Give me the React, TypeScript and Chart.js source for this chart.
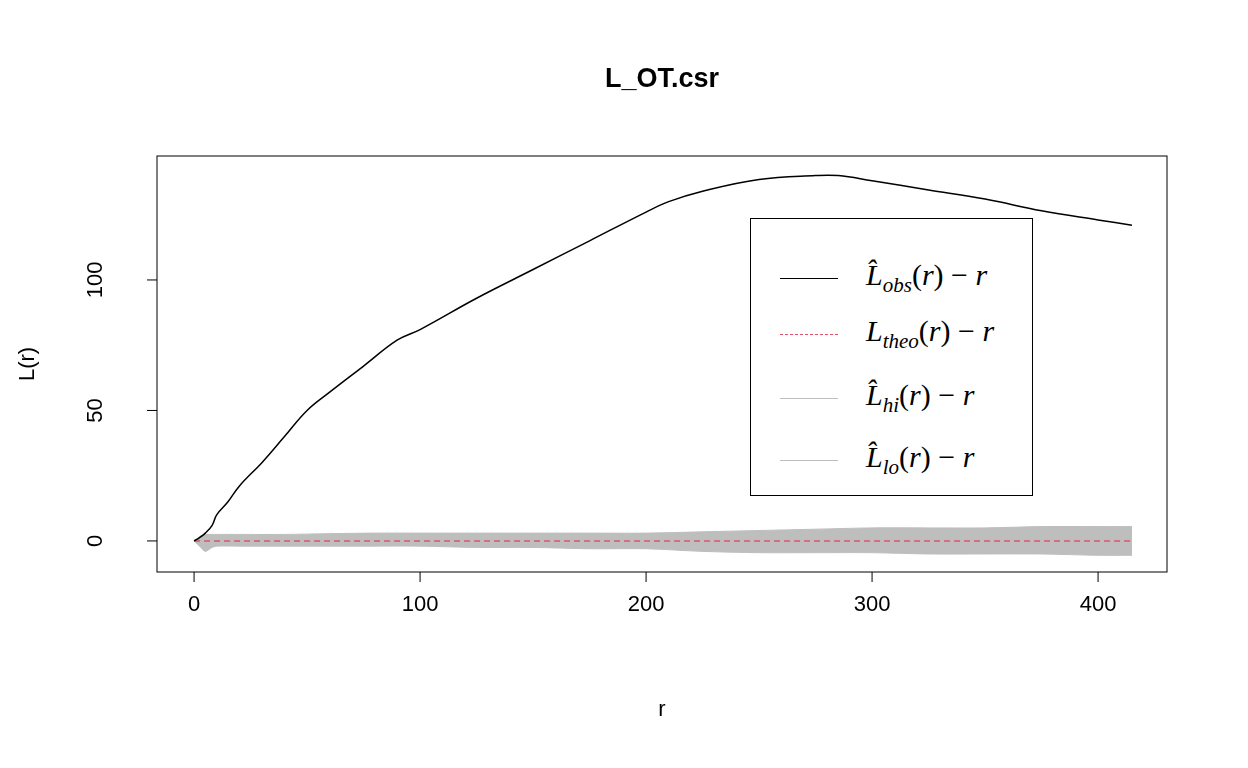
import { useEffect, useRef } from "react";
import { Chart, registerables } from "chart.js";

Chart.register(...registerables);

const rObs = [0, 2, 5, 8, 10, 15, 20, 30, 40, 50, 60, 75, 90, 100, 125, 150, 175, 200, 210, 225, 250, 275, 285, 300, 325, 350, 375, 400, 415];
const lObs = [0, 1, 3, 6, 10, 15, 21, 30, 40, 50, 57, 67, 77, 81, 93, 104, 115, 126, 130, 134, 138.5, 140, 140, 138, 134.5, 131, 126.5, 123, 121];
const rEnv = [0, 3, 5, 8, 10, 20, 40, 60, 80, 100, 125, 150, 175, 200, 225, 250, 275, 300, 325, 350, 375, 400, 415];
const lHi = [0, 2, 2.5, 2.5, 2.5, 2.5, 2.5, 2.8, 3, 3, 3, 3, 3, 3, 3.5, 4, 4.5, 5, 5, 5, 5.5, 5.5, 5.5];
const lLo = [0, -2.5, -4, -2.5, -2, -2, -2, -2, -2, -2, -2.5, -2.5, -3, -3, -4, -4.5, -4.5, -4.5, -5, -5, -5, -5.5, -5.5];
const xTicks = [0, 100, 200, 300, 400];
const yTicks = [0, 50, 100];

const rPlugin = {
  id: "rstyle",
  afterDraw(chart: any) {
    const { ctx, chartArea: a, scales } = chart;
    const x = scales.x, y = scales.y;
    ctx.save();
    ctx.strokeStyle = "#000";
    ctx.lineWidth = 1;
    ctx.strokeRect(a.left, a.top, a.right - a.left, a.bottom - a.top);
    ctx.fillStyle = "#000";
    ctx.font = "22px Arial, 'Liberation Sans'";
    const xb = a.bottom;
    ctx.beginPath();
    ctx.textAlign = "center";
    ctx.textBaseline = "middle";
    xTicks.forEach((t) => {
      const px = x.getPixelForValue(t);
      ctx.moveTo(px, xb);
      ctx.lineTo(px, xb + 10);
      ctx.fillText(String(t), px, 605);
    });
    const yl = a.left;
    yTicks.forEach((t) => {
      const py = y.getPixelForValue(t);
      ctx.moveTo(yl, py);
      ctx.lineTo(yl - 10, py);
      ctx.save();
      ctx.translate(96, py);
      ctx.rotate(-Math.PI / 2);
      ctx.fillText(String(t), 0, 0);
      ctx.restore();
    });
    ctx.stroke();
    ctx.fillText("r", 662, 710);
    ctx.save();
    ctx.translate(28, 364);
    ctx.rotate(-Math.PI / 2);
    ctx.fillText("L(r)", 0, 0);
    ctx.restore();
    ctx.font = "bold 27px Arial, 'Liberation Sans'";
    ctx.fillText("L_OT.csr", 662, 80);
    ctx.restore();
  },
};

const legendRows = [
  { base: "L̂", sub: "obs", color: "#000", dash: false, top: 278 },
  { base: "L", sub: "theo", color: "#DF536B", dash: true, top: 334 },
  { base: "L̂", sub: "hi", color: "#BEBEBE", dash: false, top: 398 },
  { base: "L̂", sub: "lo", color: "#BEBEBE", dash: false, top: 460 },
];

export default function App() {
  const ref = useRef<HTMLCanvasElement | null>(null);
  useEffect(() => {
    document.body.style.margin = "0";
    if (!ref.current) return;
    const env = (v: number[]) => rEnv.map((r, i) => ({ x: r, y: v[i] }));
    const chart = new Chart(ref.current, {
      type: "line",
      data: {
        datasets: [
          { data: env(lHi), borderColor: "#BEBEBE", borderWidth: 1, pointRadius: 0, fill: false, tension: 0.3, order: 3 },
          { data: env(lLo), borderColor: "#BEBEBE", borderWidth: 1, pointRadius: 0, fill: "-1", backgroundColor: "#BEBEBE", tension: 0.3, order: 2 },
          { data: [{ x: 0, y: 0 }, { x: 415, y: 0 }], borderColor: "#DF536B", borderWidth: 1.5, borderDash: [6, 4], pointRadius: 0, order: 1 },
          { data: rObs.map((r, i) => ({ x: r, y: lObs[i] })), borderColor: "#000", borderWidth: 1.5, pointRadius: 0, tension: 0.4, order: 0 },
        ],
      },
      options: {
        animation: false,
        responsive: false,
        layout: { padding: { top: 156, right: 81, left: 0, bottom: 0 } },
        plugins: { legend: { display: false }, tooltip: { enabled: false } },
        scales: {
          x: {
            type: "linear", min: -16.4, max: 430.5,
            grid: { display: false }, border: { display: false }, ticks: { display: false },
            afterFit: (s: any) => { s.height = 196; },
          },
          y: {
            type: "linear", min: -11.9, max: 147.5,
            grid: { display: false }, border: { display: false }, ticks: { display: false },
            afterFit: (s: any) => { s.width = 157; },
          },
        },
      },
      plugins: [rPlugin],
    });
    return () => chart.destroy();
  }, []);

  return (
    <div style={{ position: "relative", width: 1248, height: 768, background: "#fff" }}>
      <canvas ref={ref} width={1248} height={768} />
      <div style={{ position: "absolute", left: 750, top: 218, width: 283, height: 278, border: "1px solid #000", background: "#fff", boxSizing: "border-box" }} />
      {legendRows.map((row) => (
        <div key={row.sub} style={{ position: "absolute", left: 780, top: row.top - 20, height: 40, display: "flex", alignItems: "center" }}>
          <div style={{ width: 58, borderTop: `1.5px ${row.dash ? "dashed" : "solid"} ${row.color}` }} />
          <span style={{ marginLeft: 28, fontFamily: "'Liberation Serif', 'DejaVu Serif', serif", fontSize: 30, fontStyle: "italic", color: "#000", whiteSpace: "nowrap" }}>
            {row.base}
            <sub style={{ fontSize: 21 }}>{row.sub}</sub>
            <span style={{ fontStyle: "normal" }}>(</span>r<span style={{ fontStyle: "normal" }}>)</span>
            <span style={{ fontStyle: "normal" }}> − </span>r
          </span>
        </div>
      ))}
    </div>
  );
}
